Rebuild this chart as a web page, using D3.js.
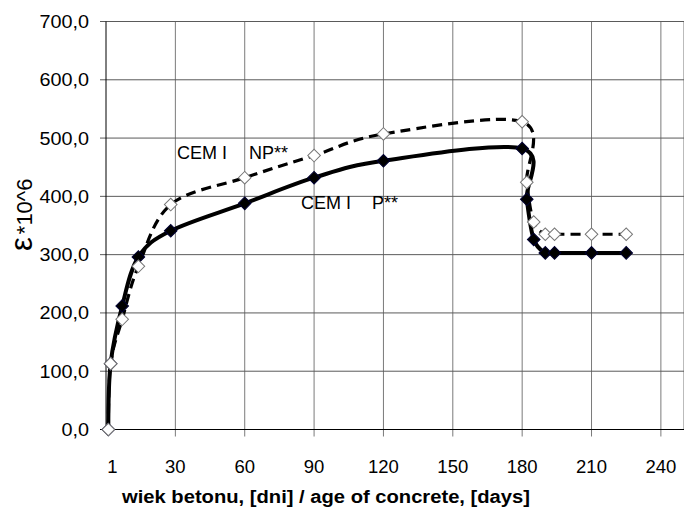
<!DOCTYPE html>
<html><head><meta charset="utf-8">
<script src="https://cdn.jsdelivr.net/npm/d3@7"></script>
<style>body{margin:0;background:#fff}svg{display:block}text{font-family:Arial,"Liberation Sans",sans-serif}</style>
</head><body><svg id="c" width="684" height="512"></svg>
<script>
const xTicks = [1, 30, 60, 90, 120, 150, 180, 210, 240];
const yTicks = [0, 100, 200, 300, 400, 500, 600, 700];
const daysP = [1, 2, 7, 14, 28, 60, 90, 120, 180, 182, 185, 190, 194, 210, 225];
const valsP = [0, 113, 212, 296, 341, 388, 432, 461, 482, 395, 326, 303, 303, 303, 303];
const daysNP = [1, 2, 7, 14, 28, 60, 90, 120, 180, 182, 185, 190, 194, 210, 225];
const valsNP = [0, 113, 189, 280, 386, 432, 470, 507, 528, 424, 356, 335, 335, 335, 335];
const seriesLabels = ["CEM I", "NP**", "P**"];

const svg = d3.select("#c");
const x = d3.scaleLinear().domain([0, 250]).range([106, 684]);
const y = d3.scaleLinear().domain([0, 700]).range([429.5, 21.5]);

// vertical gridlines
svg.append("g").selectAll("line").data(xTicks.slice(1)).join("line")
  .attr("x1", d => x(d)).attr("x2", d => x(d))
  .attr("y1", y(700)).attr("y2", y(0) + 7)
  .attr("stroke", "#7a7a7a").attr("stroke-width", 1);
svg.append("line").attr("x1", 683.5).attr("x2", 683.5).attr("y1", y(700)).attr("y2", y(0))
  .attr("stroke", "#bbb");
// horizontal gridlines
svg.append("g").selectAll("line").data(yTicks.slice(1)).join("line")
  .attr("x1", x(0) - 6).attr("x2", 684)
  .attr("y1", d => y(d)).attr("y2", d => y(d))
  .attr("stroke", "#5a5a5a").attr("stroke-width", 1);
// axes
svg.append("line").attr("x1", x(0)).attr("x2", x(0)).attr("y1", y(700)).attr("y2", y(0))
  .attr("stroke", "#000");
svg.append("line").attr("x1", x(0) - 6).attr("x2", 684).attr("y1", y(0)).attr("y2", y(0))
  .attr("stroke", "#000");

// y tick labels
const fmt = d => d3.format(".1f")(d).replace(".", ",");
svg.append("g").selectAll("text").data(yTicks).join("text")
  .attr("x", 89).attr("y", d => y(d) + 6.5)
  .attr("text-anchor", "end").attr("font-size", 18).attr("fill", "#000")
  .text(fmt)
  .each(function () {
    const w = this.getComputedTextLength();
    d3.select(this).attr("textLength", w * 1.1).attr("lengthAdjust", "spacingAndGlyphs");
  });
// x tick labels
svg.append("g").selectAll("text").data(xTicks).join("text")
  .attr("x", d => d === 1 ? x(d) + 4 : x(d)).attr("y", 473)
  .attr("text-anchor", "middle").attr("font-size", 18.5).attr("fill", "#000")
  .text(d => d);

// x title
svg.append("text").attr("x", 122).attr("y", 503)
  .attr("font-size", 18).attr("font-weight", "bold").attr("fill", "#000")
  .attr("textLength", 408).attr("lengthAdjust", "spacingAndGlyphs")
  .text("wiek betonu, [dni] /  age of concrete, [days]");

// y title
const yt = svg.append("text").attr("transform", "translate(32,251) rotate(-90)").attr("fill", "#000");
yt.append("tspan").attr("font-size", 31).text("ε");
yt.append("tspan").attr("font-size", 22).attr("dx", 3).text("*10^6");

const line = d3.line().x(d => x(d[0])).y(d => y(d[1])).curve(d3.curveCardinal.tension(0));
const P = daysP.map((d, i) => [d, valsP[i]]);
const NP = daysNP.map((d, i) => [d, valsNP[i]]);

svg.append("path").attr("d", line(P)).attr("fill", "none").attr("stroke", "#000")
  .attr("stroke-width", 4).attr("stroke-linejoin", "round");
svg.append("path").attr("d", line(NP)).attr("fill", "none").attr("stroke", "#000")
  .attr("stroke-width", 3.2).attr("stroke-dasharray", "10,6");

const diamond = d3.symbol().type(d3.symbolSquare).size(80);
svg.append("g").selectAll("path").data(P).join("path")
  .attr("d", diamond).attr("transform", d => `translate(${x(d[0])},${y(d[1])}) rotate(45)`)
  .attr("fill", "#000").attr("stroke", "#000033").attr("stroke-width", 1);
svg.append("g").selectAll("path").data(NP).join("path")
  .attr("d", diamond).attr("transform", d => `translate(${x(d[0])},${y(d[1])}) rotate(45)`)
  .attr("fill", "#fff").attr("stroke", "#777").attr("stroke-width", 1);

// series labels
const lab = (t, xx, yy) => svg.append("text").attr("x", xx).attr("y", yy)
  .attr("font-size", 18).attr("fill", "#000").text(t);
lab(seriesLabels[0], 177, 159);
lab(seriesLabels[1], 249, 159);
lab(seriesLabels[0], 301, 209);
lab(seriesLabels[2], 372, 209);
</script></body></html>
